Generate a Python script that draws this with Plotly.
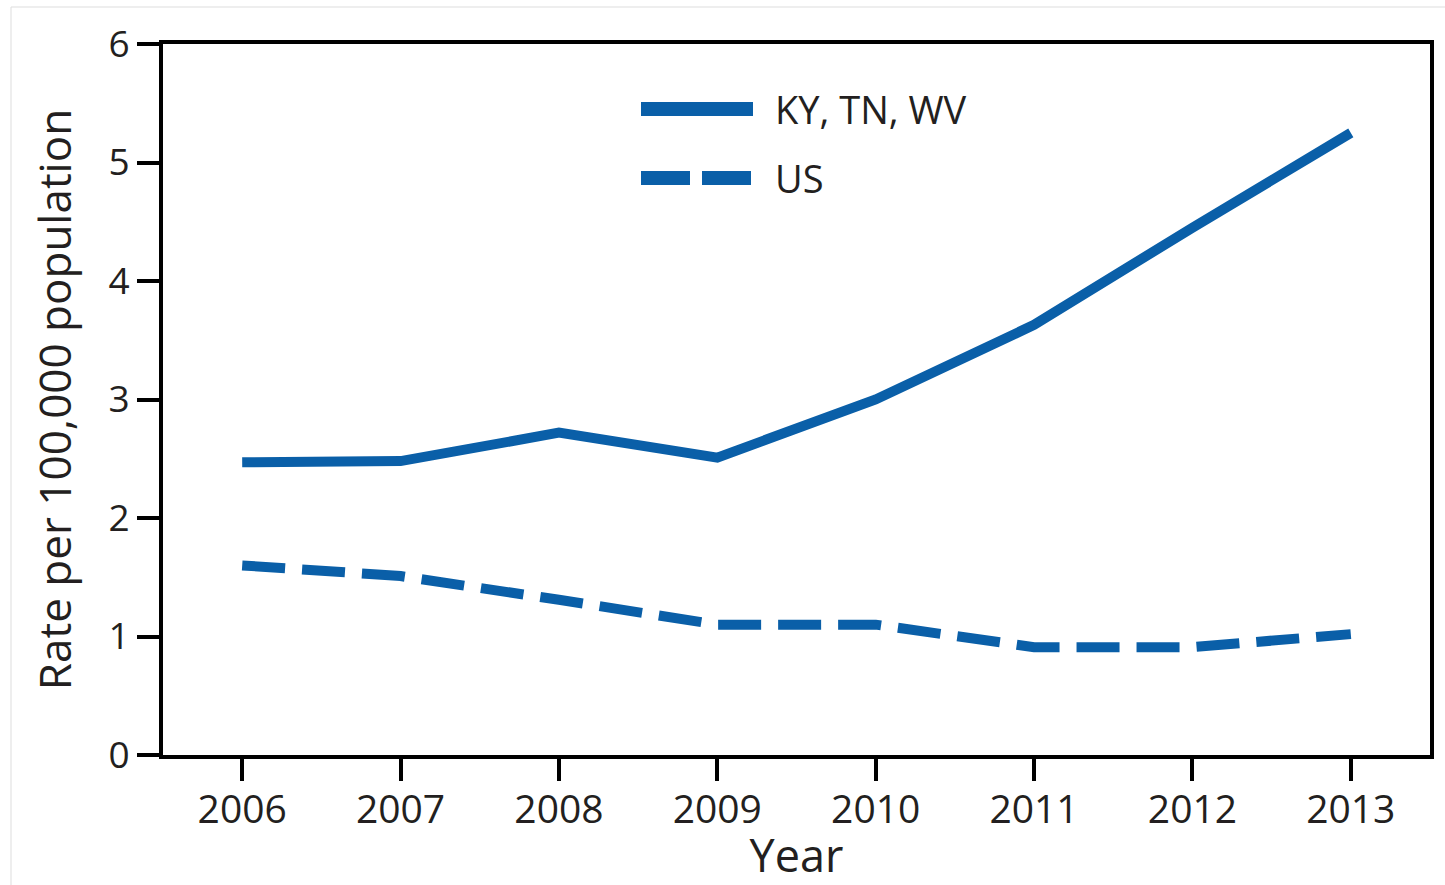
import plotly.graph_objects as go

years = [2006, 2007, 2008, 2009, 2010, 2011, 2012, 2013]
ky_tn_wv = [2.47, 2.48, 2.72, 2.51, 3.00, 3.63, 4.45, 5.25]
us = [1.60, 1.51, 1.31, 1.10, 1.10, 0.91, 0.91, 1.02]
series_names = ["KY, TN, WV", "US"]
y_ticks = [0, 1, 2, 3, 4, 5, 6]

BLUE = "#0a5fa8"
TXT = "#231f20"
FONT = "Open Sans"

fig = go.Figure()
fig.add_trace(go.Scatter(x=years, y=ky_tn_wv, mode="lines", name=series_names[0],
                         line=dict(color=BLUE, width=10), showlegend=False))
fig.add_trace(go.Scatter(x=years, y=us, mode="lines", name=series_names[1],
                         line=dict(color=BLUE, width=10, dash="43px,17px"), showlegend=False))

# plot area: x 163..1430, y 44..755
W, H = 1445, 885
L, R, T, B = 163, 1430, 44, 755
pw, ph = R - L, B - T
def px(x):
    return (x - L) / pw
def py(y):
    return (B - y) / ph

shapes = [
    dict(type="line", xref="paper", yref="paper", x0=px(641), x1=px(753), y0=py(109), y1=py(109),
         line=dict(color=BLUE, width=14)),
    dict(type="line", xref="paper", yref="paper", x0=px(641), x1=px(751), y0=py(178), y1=py(178),
         line=dict(color=BLUE, width=14, dash="49px,12px")),
    dict(type="rect", xref="paper", yref="paper", x0=px(11), x1=px(1450), y0=py(7), y1=py(900),
         line=dict(color="#dddddd", width=1), layer="below"),
]
annotations = [
    dict(xref="paper", yref="paper", x=px(773), y=py(109), text=series_names[0], showarrow=False,
         xanchor="left", yanchor="middle", font=dict(family=FONT, size=38, color=TXT)),
    dict(xref="paper", yref="paper", x=px(773), y=py(178), text=series_names[1], showarrow=False,
         xanchor="left", yanchor="middle", font=dict(family=FONT, size=38, color=TXT)),
]

fig.update_layout(
    width=W, height=H,
    margin=dict(l=L, r=W - R, t=T, b=H - B),
    paper_bgcolor="white", plot_bgcolor="white",
    font=dict(family=FONT, color=TXT),
    shapes=shapes, annotations=annotations,
    showlegend=False,
)
fig.update_xaxes(
    range=[2005.5, 2013.5], tickmode="array", tickvals=years, ticktext=[str(y) for y in years],
    showgrid=False, zeroline=False, showline=True, linecolor="black", linewidth=4, mirror=True,
    ticks="outside", ticklen=22, tickwidth=4, tickcolor="black",
    tickfont=dict(family=FONT, size=39, color=TXT), ticklabelstandoff=-5,
    title=dict(text="Year", font=dict(family=FONT, size=45, color=TXT), standoff=4),
)
fig.update_yaxes(
    range=[0, 6], tickmode="array", tickvals=y_ticks,
    showgrid=False, zeroline=False, showline=True, linecolor="black", linewidth=4, mirror=True,
    ticks="outside", ticklen=22, tickwidth=4, tickcolor="black",
    tickfont=dict(family=FONT, size=37, color=TXT),
    title=dict(text="Rate per 100,000 population", font=dict(family=FONT, size=44, color=TXT), standoff=24),
)

fig.write_html("out.html", config={"displayModeBar": False},
               post_script="document.body.style.margin='0';document.body.style.padding='0';")
